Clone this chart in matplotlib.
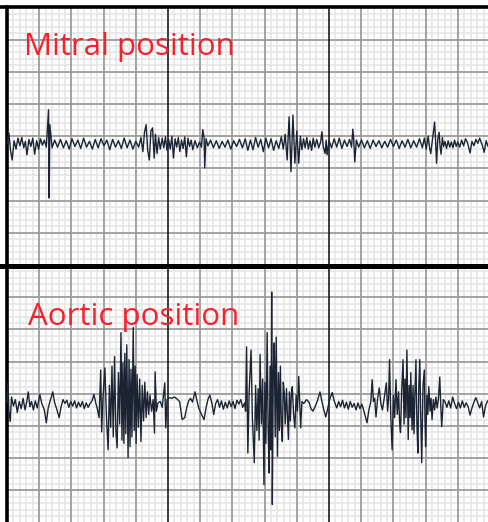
import numpy as np
import matplotlib
matplotlib.use("Agg")
import matplotlib.pyplot as plt

# Recordings: (time mm, amplitude mm), 1 mm = one small box
mitral = [
    (0.0, 0.0), (0.3, 1.7), (0.55, -1.0), (0.8, -2.5), (1.1, 0.5), (1.4, -0.8), (1.7, 0.9),
    (2.0, -0.3), (2.3, 1.0), (2.6, -0.6), (2.85, 0.4), (3.1, -1.7), (3.4, 0.7), (3.7, -0.4),
    (4.0, 0.9), (4.3, -1.6), (4.6, 0.5), (4.9, -0.8), (5.2, 0.8), (5.5, -0.2), (5.8, 0.6),
    (6.1, -0.5), (6.45, 5.3), (6.55, -8.4), (6.65, 3.0), (6.8, 1.5), (7.0, -0.6),
    (7.4, 0.6), (7.85, -0.5), (8.3, 0.7), (8.75, -0.6), (9.2, 0.5), (9.65, -0.8), (10.1, 0.8),
    (10.55, -0.4), (11.0, 0.6), (11.45, -0.7), (11.9, 0.9), (12.35, -0.5), (12.8, 0.4),
    (13.25, -0.8), (13.7, 0.7), (14.15, -0.6), (14.6, 0.8), (15.05, -0.3), (15.5, 0.6),
    (15.95, -0.9), (16.4, 0.7), (16.85, -0.5), (17.3, 0.5), (17.75, -0.7), (18.2, 0.9),
    (18.65, -0.6), (19.1, 0.6), (19.55, -0.8), (20.0, 0.4), (20.45, -0.5),
    (20.8, 1.0), (21.1, -1.2), (21.35, 1.8), (21.6, 3.0), (21.85, -1.0), (22.1, -2.5),
    (22.35, 2.0), (22.6, 2.5), (22.85, -2.2), (23.05, 1.5), (23.3, -1.5), (23.55, 1.0),
    (23.8, -0.8), (24.1, 0.9), (24.35, -0.6), (24.6, 1.1), (24.85, -1.0), (25.1, 0.7),
    (25.35, -0.8), (25.6, 1.2), (25.85, -2.2), (26.1, 0.8), (26.35, -0.5), (26.6, 1.0),
    (26.85, -1.2), (27.1, 0.6), (27.35, -0.7), (27.6, 1.1), (27.85, -2.0), (28.1, 0.9),
    (28.35, -0.4), (28.6, 0.6), (28.85, -0.9), (29.2, 0.5), (29.55, -0.6), (29.9, 0.3),
    (30.2, -0.5), (30.4, 2.2), (30.6, 1.0), (30.7, -3.7), (30.9, 0.8), (31.2, -0.3),
    (31.6, 0.6), (32.05, -0.6), (32.5, 0.5), (32.95, -0.7), (33.4, 0.4), (33.85, -0.5),
    (34.3, 0.6), (34.75, -0.8), (35.2, 0.5), (35.65, -0.4), (36.1, 0.7), (36.55, -0.6),
    (37.0, 0.8), (37.4, -1.0), (37.8, 0.6), (38.2, -0.9), (38.6, 1.0), (39.0, -0.5),
    (39.4, 0.7), (39.8, -1.2), (40.2, 0.9), (40.6, -0.6), (41.0, 0.8), (41.4, -1.0),
    (41.8, 0.5), (42.2, -0.7), (42.6, 1.1), (42.9, -0.8), (43.2, 1.5), (43.5, -2.5),
    (43.8, 4.2), (44.1, -4.3), (44.4, 4.5), (44.7, -3.0), (45.0, 2.0), (45.3, -3.0),
    (45.55, 1.2), (45.8, -0.9), (46.05, 0.8), (46.3, -0.6), (46.55, 1.0), (46.8, -0.8),
    (47.05, 0.5), (47.3, -1.0), (47.55, 0.9), (47.8, -0.5), (48.1, 0.7), (48.4, -0.6),
    (48.7, 0.3), (48.9, 1.9), (49.1, -0.4), (49.4, -1.5), (49.55, 0.6), (49.7, -1.7),
    (50.0, 0.5), (50.4, -0.6), (50.8, 0.8), (51.2, -0.5), (51.6, 0.9), (52.0, -0.7),
    (52.4, 0.6), (52.8, -0.4), (53.2, 0.7), (53.5, -0.5), (53.7, 2.3), (53.85, 0.5),
    (54.0, -2.8), (54.25, 0.6), (54.6, -0.5), (55.05, 0.6), (55.5, -0.6), (55.95, 0.5),
    (56.4, -0.7), (56.85, 0.6), (57.3, -0.4), (57.75, 0.5), (58.2, -0.6), (58.65, 0.4),
    (59.1, -0.5), (59.55, 0.7), (60.0, -0.4), (60.45, 0.6), (60.9, -0.7), (61.35, 0.5),
    (61.8, -0.5), (62.25, 0.7), (62.7, -0.6), (63.15, 0.5), (63.6, -0.5), (64.05, 0.8),
    (64.5, -0.6), (64.8, 0.9), (65.1, -0.8), (65.4, 1.2), (65.6, -0.5), (65.8, -1.5),
    (66.1, 1.0), (66.4, 3.4), (66.55, 0.5), (66.7, -3.0), (66.9, 0.8), (67.1, 1.8),
    (67.25, -0.4), (67.4, -1.6), (67.6, 1.0), (67.8, -0.4), (68.0, 0.4), (68.25, -0.7),
    (68.5, 0.5), (68.75, -0.5), (69.0, 0.3), (69.25, -0.6), (69.5, 0.6), (69.75, -0.4),
    (70.0, 0.3), (70.3, -0.5), (70.6, 0.6), (70.9, -0.3), (71.2, 0.8), (71.5, 0.2),
    (71.9, -1.4), (72.2, 0.4), (72.5, -0.3), (72.8, 0.7), (73.1, 0.1), (73.4, 0.9),
    (73.8, -0.2), (74.1, -1.3), (74.4, 0.5), (74.7, -0.4), (75.0, 0.1),
]

aortic = [
    (0.0, 0.3), (0.15, 3.4), (0.3, -1.0), (0.5, -2.6), (0.7, 1.2), (1.0, -0.2), (1.3, 0.8),
    (1.6, -1.2), (1.9, 0.5), (2.2, -0.6), (2.5, 1.0), (2.8, -0.8), (3.1, 0.6), (3.3, 2.0),
    (3.55, -0.3), (3.8, 0.5), (4.1, -0.8), (4.4, 0.6), (4.7, -0.5), (5.1, 1.6), (5.4, 0.2),
    (5.8, -0.8), (6.1, -2.8), (6.4, -0.5), (6.7, 0.6), (7.1, 2.0), (7.4, 0.3), (7.7, -0.6),
    (8.1, -2.0), (8.4, -0.3), (8.7, 0.8), (9.0, 0.2), (9.3, 0.7), (9.6, -0.4), (9.9, 0.5),
    (10.2, -0.2), (10.5, 0.6), (10.8, -0.5), (11.1, 0.4), (11.4, -0.3), (11.7, 0.5),
    (12.0, -0.6), (12.3, 0.3), (12.6, -0.4), (12.9, 0.2), (13.2, 0.6), (13.5, 1.6),
    (13.8, 0.2), (14.0, -0.5), (14.3, -2.0), (14.55, 5.4), (14.7, -4.2), (14.9, 1.0),
    (15.2, 5.7), (15.45, -2.0), (15.7, -7.0), (15.9, 3.0), (16.1, -3.5), (16.3, 6.0),
    (16.5, -5.0), (16.7, 7.5), (16.9, -4.0), (17.1, -6.7), (17.3, 5.0), (17.5, -3.0),
    (17.7, 11.2), (17.85, -5.5), (18.0, 6.5), (18.15, -6.0), (18.3, 8.0), (18.45, -4.5),
    (18.6, 9.3), (18.8, -8.2), (18.95, 7.0), (19.1, -6.5), (19.25, 5.5), (19.4, -5.0),
    (19.6, 12.0), (19.75, -4.0), (19.9, 6.0), (20.05, -6.0), (20.2, 4.7), (20.4, -3.5),
    (20.6, 4.0), (20.8, -5.7), (21.0, 3.0), (21.2, -2.5), (21.4, 3.5), (21.6, -2.0),
    (21.8, 2.0), (22.0, -1.5), (22.2, 1.5), (22.45, -1.0), (22.7, 0.8), (22.9, -4.4),
    (23.0, 5.1), (23.2, -1.0), (23.45, 0.3), (23.8, 0.5), (24.1, -0.4), (24.5, 3.4),
    (24.65, -3.6), (24.85, 0.8), (25.2, 1.1), (25.6, 1.0), (26.0, 1.2), (26.4, 0.9),
    (26.8, 0.5), (27.2, -2.3), (27.6, -2.0), (27.9, -0.5), (28.2, 0.6), (28.5, 1.0),
    (28.8, 0.4), (29.2, 2.0), (29.5, 0.6), (29.8, -0.6), (30.2, -1.5), (30.6, -2.3),
    (30.9, -0.5), (31.2, 0.8), (31.5, 1.5), (31.8, 0.3), (32.1, -1.5), (32.4, 0.2),
    (32.7, 0.8), (33.0, -0.4), (33.3, 0.6), (33.6, -0.7), (33.9, 0.4), (34.2, -0.5),
    (34.5, 0.6), (34.8, -0.3), (35.1, 0.5), (35.4, -0.6), (35.7, 0.7), (36.0, 0.1),
    (36.3, 0.8), (36.6, -0.4), (36.9, 0.3), (37.05, -1.0), (37.2, 9.0), (37.4, -7.5),
    (37.6, 2.0), (37.9, 8.5), (38.1, -2.0), (38.4, -9.0), (38.6, 3.0), (38.8, -4.0),
    (39.0, 2.5), (39.15, -5.5), (39.3, 7.8), (39.5, -3.0), (39.7, 4.0), (39.9, -12.4),
    (40.05, 3.5), (40.2, -6.0), (40.4, 11.2), (40.55, -4.0), (40.7, -10.6), (40.85, 6.0),
    (41.0, -7.0), (41.1, 17.5), (41.2, -15.5), (41.35, 5.0), (41.5, 9.6), (41.65, -5.0),
    (41.8, 10.5), (42.0, -8.0), (42.15, 5.0), (42.3, -4.0), (42.45, 6.0), (42.6, -3.0),
    (42.75, -5.7), (42.9, 3.5), (43.05, 1.9), (43.2, -3.0), (43.4, 2.5), (43.55, -2.0),
    (43.7, -5.4), (43.85, 2.0), (44.0, -2.5), (44.15, 1.5), (44.3, 2.8), (44.5, -1.5),
    (44.7, -3.6), (44.9, 1.5), (45.1, -1.0), (45.3, 4.4), (45.5, -1.0), (45.6, -3.6),
    (45.8, 0.5), (46.1, 0.2), (46.5, 0.8), (46.9, 0.4), (47.2, -0.6), (47.5, -1.0),
    (47.8, -0.4), (48.2, 0.6), (48.6, 2.0), (48.9, 0.5), (49.2, -0.8), (49.5, -1.9),
    (49.8, -0.6), (50.1, 0.8), (50.5, 1.9), (50.8, 0.6), (51.2, -0.5), (51.5, 0.5),
    (51.8, -0.3), (52.1, 0.7), (52.4, -0.5), (52.7, 0.4), (53.0, -0.7), (53.3, 0.5),
    (53.6, -0.4), (53.9, 0.2), (54.2, -0.8), (54.5, 0.3), (54.8, -0.6), (55.1, 0.1),
    (55.4, -0.9), (55.9, -2.8), (56.2, -0.8), (56.5, 0.5), (56.7, 3.9), (56.9, 0.5),
    (57.1, 1.0), (57.3, -1.9), (57.55, 1.0), (57.8, 2.6), (58.05, 0.2), (58.3, -0.8),
    (58.6, 1.2), (58.9, 3.4), (59.1, -1.0), (59.25, 1.0), (59.4, 7.0), (59.6, -2.0),
    (59.8, -7.0), (60.0, 1.5), (60.2, -2.0), (60.4, 3.9), (60.6, -1.5), (60.8, 2.0),
    (60.95, -2.5), (61.1, -4.3), (61.3, 2.5), (61.5, 7.0), (61.65, -3.0), (61.8, 4.0),
    (61.95, -2.0), (62.1, 8.5), (62.3, -5.4), (62.45, 3.0), (62.6, -2.0), (62.7, 5.0),
    (62.9, -3.9), (63.05, 3.0), (63.2, -4.5), (63.35, 2.0), (63.5, 7.0), (63.65, -3.0),
    (63.8, -7.5), (63.95, 3.0), (64.1, 7.0), (64.25, -2.0), (64.4, -9.0), (64.6, 3.0),
    (64.8, 5.4), (64.9, -2.0), (65.0, -6.5), (65.2, 1.5), (65.35, -1.5), (65.5, 2.8),
    (65.7, -1.0), (65.85, 1.0), (66.0, -2.3), (66.2, 0.8), (66.4, -0.8), (66.6, 1.2),
    (66.8, -0.5), (67.0, 1.0), (67.2, 4.3), (67.35, 0.0), (67.5, -3.4), (67.75, 0.8),
    (68.0, 0.5), (68.3, -0.4), (68.6, 0.6), (68.9, -0.5), (69.2, 1.2), (69.5, 0.2),
    (69.8, -0.6), (70.1, 0.4), (70.4, -0.5), (70.7, 0.6), (71.0, -0.4), (71.3, 0.3),
    (71.6, -0.3), (71.9, -1.6), (72.2, -0.5), (72.5, 0.4), (72.8, 1.1), (73.1, 0.3),
    (73.4, -0.5), (73.7, 0.5), (74.0, -1.9), (74.3, -0.2), (74.6, 0.6), (75.0, 0.2),
]

labels = ["Mitral position", "Aortic position"]
baselines = [18.8, -21.7]   # mm above the middle divider
panel_tops = [40, 0]        # each strip is 40 mm high


def draw_grid(ax, top):
    bottom = top - 40
    for x in range(0, 76):
        if x % 25 == 0 and x > 0:
            ax.plot([x, x], [bottom, top], color="#1a1a1a", lw=1.2, zorder=3)
        elif x % 5 == 0:
            ax.plot([x, x], [bottom, top], color="#9c9c9c", lw=1.3, zorder=2)
        else:
            ax.plot([x, x], [bottom, top], color="#e6e6e6", lw=1.2, zorder=1)
    for y in range(bottom, top + 1):
        if (y - bottom) % 5 == 0:
            ax.plot([0, 76], [y, y], color="#9c9c9c", lw=1.3, zorder=2)
        else:
            ax.plot([0, 76], [y, y], color="#e6e6e6", lw=1.2, zorder=1)


def main():
    fig = plt.figure(figsize=(4.89, 5.22), dpi=100)
    ax = fig.add_axes([0, 0, 1, 1])
    ax.set_xlim(-7 / 6.44, 482 / 6.44)
    ax.set_ylim(-257 / 6.44, 265 / 6.44)
    ax.axis("off")

    for top in panel_tops:
        draw_grid(ax, top)

    # heavy borders: left edge, top edge and the divider between strips
    ax.plot([0, 0], [-41, 40], color="black", lw=2.6, zorder=4)
    ax.plot([-2, 76], [40, 40], color="black", lw=2.6, zorder=4)
    ax.plot([-2, 76], [-0.2, -0.2], color="black", lw=3.6, zorder=4)

    for data, base in zip([mitral, aortic], baselines):
        arr = np.array(data)
        ax.plot(arr[:, 0], base + arr[:, 1], color="#1c2433", lw=1.0, zorder=6)

    ax.text(17 / 6.44, 32.6, labels[0], color="#f5222d", fontsize=22.5,
            family="Open Sans", va="baseline", zorder=5)
    ax.text(21 / 6.44, -9.3, labels[1], color="#f5222d", fontsize=22.5,
            family="Open Sans", va="baseline", zorder=5)

    fig.savefig("out.png", dpi=100)


if __name__ == "__main__":
    main()
